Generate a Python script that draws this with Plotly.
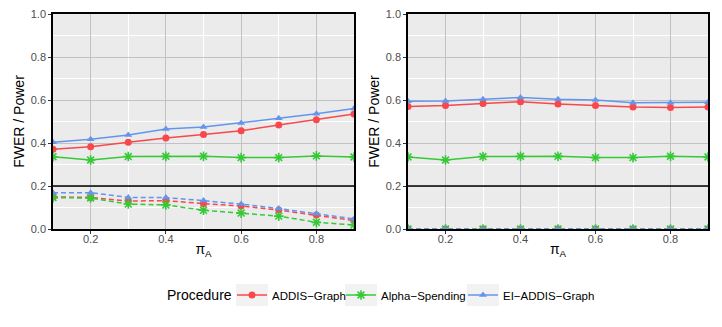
import plotly.graph_objects as go

# shared x grid (pi_A)
PI_A = [0.1, 0.2, 0.3, 0.4, 0.5, 0.6, 0.7, 0.8, 0.9]

PROCEDURES = ["ADDIS\u2212Graph", "Alpha\u2212Spending", "EI\u2212ADDIS\u2212Graph"]

# left panel
LEFT_POWER = {
    "ADDIS\u2212Graph": [0.371, 0.383, 0.403, 0.423, 0.439, 0.457, 0.484, 0.508, 0.535],
    "Alpha\u2212Spending": [0.336, 0.321, 0.337, 0.338, 0.338, 0.332, 0.332, 0.340, 0.335],
    "EI\u2212ADDIS\u2212Graph": [0.403, 0.417, 0.437, 0.465, 0.474, 0.493, 0.515, 0.536, 0.560],
}
LEFT_FWER = {
    "ADDIS\u2212Graph": [0.149, 0.147, 0.130, 0.132, 0.118, 0.107, 0.088, 0.065, 0.039],
    "Alpha\u2212Spending": [0.146, 0.144, 0.116, 0.112, 0.087, 0.074, 0.060, 0.031, 0.019],
    "EI\u2212ADDIS\u2212Graph": [0.169, 0.169, 0.147, 0.146, 0.132, 0.116, 0.095, 0.071, 0.047],
}

# right panel
RIGHT_POWER = {
    "ADDIS\u2212Graph": [0.570, 0.575, 0.584, 0.592, 0.581, 0.575, 0.567, 0.565, 0.568],
    "Alpha\u2212Spending": [0.335, 0.321, 0.337, 0.338, 0.338, 0.332, 0.332, 0.338, 0.335],
    "EI\u2212ADDIS\u2212Graph": [0.594, 0.595, 0.603, 0.612, 0.603, 0.600, 0.587, 0.587, 0.589],
}
RIGHT_FWER = {
    "ADDIS\u2212Graph": [0, 0, 0, 0, 0, 0, 0, 0, 0],
    "Alpha\u2212Spending": [0, 0, 0, 0, 0, 0, 0, 0, 0],
    "EI\u2212ADDIS\u2212Graph": [0, 0, 0, 0, 0, 0, 0, 0, 0],
}

ALPHA_LINE = 0.2

COLORS = {
    "ADDIS\u2212Graph": "#F8484B",
    "Alpha\u2212Spending": "#36C936",
    "EI\u2212ADDIS\u2212Graph": "#6495ED",
}
SYMBOLS = {
    "ADDIS\u2212Graph": "circle",
    "Alpha\u2212Spending": "asterisk-open",
    "EI\u2212ADDIS\u2212Graph": "triangle-up",
}
# one legend box per procedure so each entry sits where the reference has it
LEGEND_REFS = {
    "ADDIS\u2212Graph": "legend",
    "Alpha\u2212Spending": "legend2",
    "EI\u2212ADDIS\u2212Graph": "legend3",
}
LEGEND_LEFT = {"legend": 232, "legend2": 341, "legend3": 463}

FONT = "Liberation Sans, Arial, sans-serif"

# the page body adds an 8px margin, so the figure is drawn 8px smaller
# and every pixel position below is measured in window coordinates
OFF = 8
W, H = 722 - OFF, 327 - OFF


def px_x(p):
    return (p - OFF) / W


def px_y(p):
    return 1 - (p - OFF) / H


fig = go.Figure()


def add_series(name, xs, ys, xaxis, yaxis, dashed, show):
    color = COLORS[name]
    sym = SYMBOLS[name]
    marker = dict(symbol=sym, size=7, color=color)
    if sym == "asterisk-open":
        marker = dict(symbol=sym, size=8, color=color, line=dict(color=color, width=1.6))
    fig.add_trace(go.Scatter(
        x=xs, y=ys, xaxis=xaxis, yaxis=yaxis,
        mode="lines+markers", name=name, legendgroup=name, showlegend=show,
        legend=LEGEND_REFS[name],
        line=dict(color=color, width=1.5, dash="5px,3px" if dashed else "solid"),
        marker=marker,
    ))


for proc in PROCEDURES:
    add_series(proc, PI_A, LEFT_FWER[proc], "x", "y", True, False)
    add_series(proc, PI_A, RIGHT_FWER[proc], "x2", "y2", True, False)
for proc in PROCEDURES:
    add_series(proc, PI_A, LEFT_POWER[proc], "x", "y", False, True)
    add_series(proc, PI_A, RIGHT_POWER[proc], "x2", "y2", False, False)

y_dom = [px_y(229), px_y(14)]

xaxis_style = dict(
    range=[0.1, 0.9], tickvals=[0.2, 0.4, 0.6, 0.8], ticktext=["0.2", "0.4", "0.6", "0.8"],
    showgrid=True, gridcolor="#C2C2C2", gridwidth=1.4,
    minor=dict(tickvals=[0.1, 0.3, 0.5, 0.7, 0.9], showgrid=True, gridcolor="white", gridwidth=0.8),
    ticks="outside", ticklen=3, tickcolor="#333333",
    showline=True, linecolor="black", linewidth=1.5, mirror=True, layer="above traces",
    tickfont=dict(size=11, color="#4D4D4D", family=FONT), ticklabelstandoff=-4,
    title=dict(text="\u03c0<sub>A</sub>", font=dict(size=14, color="black", family=FONT), standoff=0),
    zeroline=False, automargin=False,
)
yaxis_style = dict(
    range=[0, 1], tickvals=[0, 0.2, 0.4, 0.6, 0.8, 1.0],
    ticktext=["0.0", "0.2", "0.4", "0.6", "0.8", "1.0"], ticklabeloverflow="allow",
    showgrid=True, gridcolor="#C2C2C2", gridwidth=1.4,
    minor=dict(tickvals=[0.1, 0.3, 0.5, 0.7, 0.9], showgrid=True, gridcolor="white", gridwidth=0.8),
    ticks="outside", ticklen=3, tickcolor="#333333",
    showline=True, linecolor="black", linewidth=1.5, mirror=True, layer="above traces",
    tickfont=dict(size=11, color="#4D4D4D", family=FONT),
    title=dict(text="FWER / Power", font=dict(size=14, color="black", family=FONT), standoff=3),
    zeroline=False, automargin=False,
)

legend_common = dict(
    orientation="h", xanchor="left", y=px_y(295), yanchor="middle",
    font=dict(size=11.5, family=FONT), itemwidth=30, bgcolor="rgba(0,0,0,0)",
)

# light grey key backgrounds, as ggplot draws them
key_boxes = []
for left in LEGEND_LEFT.values():
    key_boxes.append(dict(
        type="rect", xref="paper", yref="paper", layer="below",
        x0=px_x(left + 4), x1=px_x(left + 36), y0=px_y(306), y1=px_y(284),
        fillcolor="#F2F2F2", line=dict(width=0),
    ))

fig.update_layout(
    width=W, height=H,
    margin=dict(l=0, r=0, t=0, b=0),
    paper_bgcolor="white", plot_bgcolor="#EBEBEB",
    font=dict(family=FONT, color="black"),
    xaxis=dict(domain=[px_x(53), px_x(354)], anchor="y", **xaxis_style),
    yaxis=dict(domain=y_dom, anchor="x", **yaxis_style),
    xaxis2=dict(domain=[px_x(408), px_x(708)], anchor="y2", **xaxis_style),
    yaxis2=dict(domain=y_dom, anchor="x2", **yaxis_style),
    legend=dict(x=px_x(LEGEND_LEFT["legend"]), **legend_common),
    legend2=dict(x=px_x(LEGEND_LEFT["legend2"]), **legend_common),
    legend3=dict(x=px_x(LEGEND_LEFT["legend3"]), **legend_common),
    annotations=[dict(
        text="Procedure", xref="paper", yref="paper", x=px_x(165), y=px_y(295),
        xanchor="left", yanchor="middle", showarrow=False,
        font=dict(size=14, family=FONT, color="black"),
    )],
    shapes=key_boxes + [
        dict(type="line", xref="x domain", yref="y", x0=0, x1=1, y0=ALPHA_LINE, y1=ALPHA_LINE,
             line=dict(color="black", width=1.5)),
        dict(type="line", xref="x2 domain", yref="y2", x0=0, x1=1, y0=ALPHA_LINE, y1=ALPHA_LINE,
             line=dict(color="black", width=1.5)),
    ],
)

fig.write_html("out.html")
